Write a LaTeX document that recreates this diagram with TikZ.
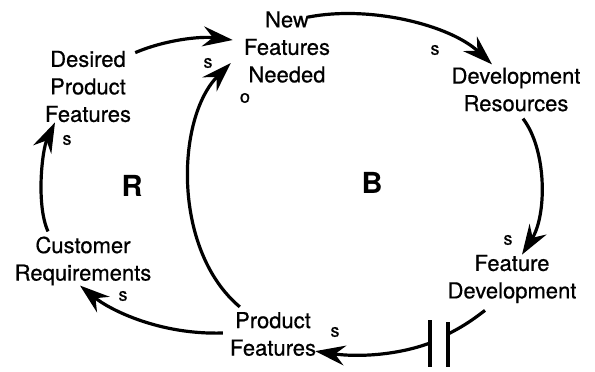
\documentclass[tikz,border=0pt]{standalone}
\usepackage{fontspec}
\setmainfont{TeX Gyre Heros}
\newfontfamily\heavyheros{TeX Gyre Heros}[FakeBold=0.6]
\usetikzlibrary{arrows.meta,calc}

\tikzset{
  var/.style={align=center, inner sep=1pt, font=\heavyheros\fontsize{22}{27.5}\selectfont},
  loopname/.style={inner sep=0pt, font=\fontsize{29}{32}\selectfont\bfseries},
  pol/.style={inner sep=0pt, font=\heavyheros\fontsize{18}{20}\selectfont},
  link/.style={line width=3.2pt, -{Stealth[length=30pt,width=20pt,inset=10pt]}},
  plain/.style={line width=3.2pt},
}

\begin{document}
\begin{tikzpicture}[x=1pt,y=-1pt]
\useasboundingbox[fill=white] (0,0) rectangle (595,372);

% variables
\node[var] (nfn) at (287,47)   {New\\Features\\Needed};
\node[var] (dpf) at (88,86.5)  {Desired\\Product\\Features};
\node[var] (dr)  at (516,89.5) {Development\\Resources};
\node[var] (fd)  at (512,279)  {Feature\\Development};
\node[var] (pf)  at (273,334)  {Product\\Features};
\node[var] (cr)  at (83,261)   {Customer\\Requirements};

% loop identifiers
\node[loopname] (loopR) at (132,185.5) {R};
\node[loopname] (loopB) at (372,183)   {B};

% causal links
\draw[link] ($(dpf.north east)+(3,3)$) .. controls (165,40) and (200,36) .. ($(nfn.west)+(-10,-7)$);
\draw[link] ($(nfn.north)+(21,7)$) .. controls (370,5) and (450,25) .. ($(dr.north)+(-24,-2)$);
\draw[link] ($(dr.south)+(7,6)$) .. controls (547,150) and (547,215) .. ($(fd.north)+(10,1)$);
\draw[link] ($(pf.north west)+(11,-4)$) .. controls (172,250) and (176,118) .. ($(nfn.west)+(-12,16)$);
\draw[link] ($(pf.west)+(-6,-1)$) .. controls (160,335) and (110,310) .. ($(cr.south)+(-3,-1)$);
\draw[link] ($(cr.north)+(-35,-4)$) .. controls (36,205) and (42,150) .. ($(dpf.south)+(-33,-1)$);

% delayed link from feature development to product features
\coordinate (gapR) at (448,334);
\coordinate (gapL) at (430,343);
\draw[plain] ($(fd.south)+(-27,6)$) .. controls (470,322) and (460,328) .. (gapR);
\draw[link] (gapL) .. controls (395,356) and (355,357) .. ($(pf.south east)+(-2,-6)$);
\draw[plain] ($(gapL)+(0,-23)$) -- ($(gapL)+(0,24)$);
\draw[plain] ($(gapR)+(0,-12)$) -- ($(gapR)+(0,33)$);

% polarities
\node[pol] (p1) at (208,63)  {s};
\node[pol] (p2) at (245,98)  {o};
\node[pol] (p3) at (435,50)  {s};
\node[pol] (p4) at (67,140)  {s};
\node[pol] (p5) at (508,240) {s};
\node[pol] (p6) at (335,332) {s};
\node[pol] (p7) at (123,296) {s};
\end{tikzpicture}
\end{document}
